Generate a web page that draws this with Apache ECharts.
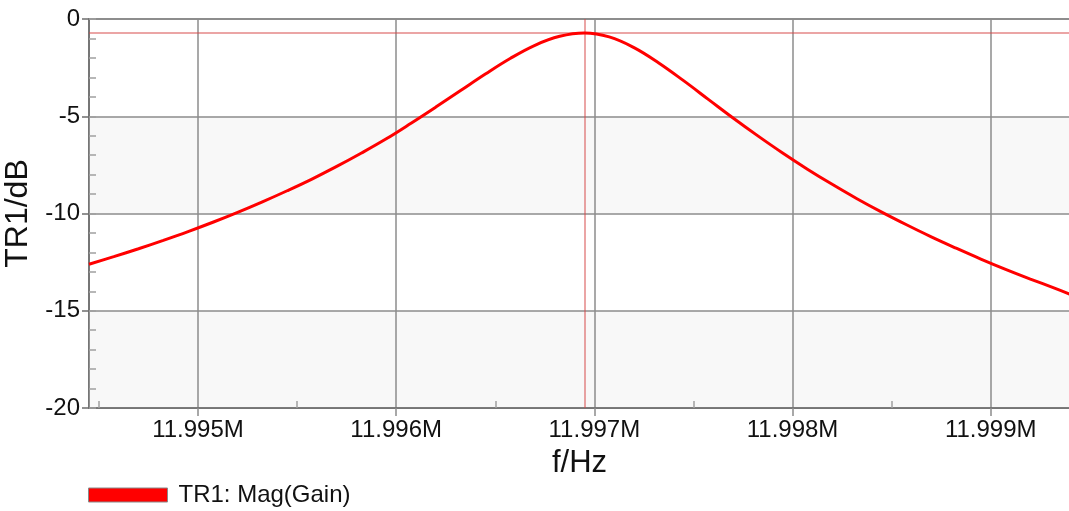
<!DOCTYPE html>
<html>
<head>
<meta charset="utf-8">
<title>TR1 Mag(Gain)</title>
<script src="https://cdn.jsdelivr.net/npm/echarts@6/dist/echarts.min.js"></script>
<style>
  html, body { margin: 0; padding: 0; background: #ffffff; }
  #chart { width: 1069px; height: 511px; }
</style>
</head>
<body>
<div id="chart"></div>
<script>
// Sweep frequencies (Hz), 125 Hz steps, and measured gain (dB)
const freqHz = [11994450, 11994575, 11994700, 11994825, 11994950, 11995075, 11995200, 11995325,
                11995450, 11995575, 11995700, 11995825, 11995950, 11996075, 11996200, 11996325,
                11996450, 11996575, 11996700, 11996825, 11996950, 11997075, 11997200, 11997325,
                11997450, 11997575, 11997700, 11997825, 11997950, 11998075, 11998200, 11998325,
                11998450, 11998575, 11998700, 11998825, 11998950, 11999075, 11999200, 11999325,
                11999400];
const gainDb = [-12.61, -12.22, -11.81, -11.38, -10.93, -10.45, -9.94, -9.40,
                -8.83, -8.23, -7.58, -6.89, -6.16, -5.36, -4.53, -3.68,
                -2.83, -2.03, -1.35, -0.89, -0.72, -0.92, -1.47, -2.26,
                -3.17, -4.13, -5.09, -6.01, -6.89, -7.72, -8.50, -9.24,
                -9.93, -10.58, -11.20, -11.78, -12.34, -12.87, -13.37, -13.85,
                -14.15];

// Frequency axis range and tick positions (Hz)
const freqMin = 11994450;
const freqMax = 11999400;
const xMajorTicks = [11995000, 11996000, 11997000, 11998000, 11999000];
const xMinorTicks = [11994500, 11995500, 11996500, 11997500, 11998500];

// Gain axis range (dB)
const gainMin = -20;
const gainMax = 0;

// Marker at the resonance peak
const markerFreq = 11996950;
const markerDb = -0.72;

const traceName = 'TR1: Mag(Gain)';

const FONT = '"Liberation Sans", Arial, sans-serif';
const AXIS_GREY = '#6e6e6e';
const GRID_GREY = '#8c8c8c';

const GRID = { left: 89, top: 19, right: -1, bottom: 103 };
const plotHeight = 511 - GRID.top - GRID.bottom;

const chart = echarts.init(document.getElementById('chart'), null, { renderer: 'canvas' });

const option = {
  animation: false,
  backgroundColor: '#ffffff',
  textStyle: { fontFamily: FONT },
  grid: Object.assign({
    show: true, borderColor: AXIS_GREY, borderWidth: 1.5, backgroundColor: 'transparent',
    outerBoundsMode: 'none', containLabel: false
  }, GRID),
  legend: {
    left: 88, top: 483, padding: 0,
    icon: 'rect', itemWidth: 79, itemHeight: 14,
    itemStyle: { borderColor: '#8a8a8a', borderWidth: 1 },
    textStyle: { fontSize: 24, color: '#111', fontFamily: FONT, lineHeight: 24, padding: [0, 0, 0, 6] },
    data: [traceName]
  },
  xAxis: [
    {
      type: 'value', min: freqMin, max: freqMax, position: 'bottom',
      name: 'f/Hz', nameLocation: 'middle', nameGap: 40,
      nameTextStyle: { fontSize: 31, color: '#111', fontFamily: FONT },
      axisLine: { show: true, onZero: false, lineStyle: { color: AXIS_GREY, width: 1.5 } },
      axisTick: { show: true, inside: false, length: 8, customValues: xMajorTicks,
                  lineStyle: { color: GRID_GREY, width: 1.5 } },
      axisLabel: { show: true, customValues: xMajorTicks, margin: 10, fontSize: 24, color: '#111', fontFamily: FONT,
                   formatter: v => (v / 1e6).toFixed(3) + 'M' },
      splitLine: { show: true, lineStyle: { color: GRID_GREY, width: 1.5 } }
    },
    {
      // minor ticks: an axis moved down onto the bottom edge, ticks pointing up into the plot
      type: 'value', min: freqMin, max: freqMax, position: 'top', offset: -plotHeight,
      axisLine: { show: false, onZero: false },
      axisTick: { show: true, inside: false, length: 7, customValues: xMinorTicks,
                  lineStyle: { color: '#a0a0a0', width: 1.5 } },
      axisLabel: { show: false },
      splitLine: { show: false }
    }
  ],
  yAxis: [
    {
      type: 'value', min: gainMin, max: gainMax, interval: 5, position: 'left',
      name: 'TR1/dB', nameLocation: 'middle', nameGap: 31, nameRotate: 90,
      nameTextStyle: { fontSize: 32, color: '#111', fontFamily: FONT },
      axisLine: { show: true, lineStyle: { color: AXIS_GREY, width: 1.5 } },
      axisTick: { show: true, inside: false, length: 7, lineStyle: { color: AXIS_GREY, width: 1.5 } },
      axisLabel: { margin: 9, fontSize: 24, color: '#111', fontFamily: FONT },
      splitLine: { show: true, lineStyle: { color: GRID_GREY, width: 1.5 } },
      splitArea: { show: true, areaStyle: { color: ['#f8f8f8', 'rgba(255,255,255,0)'] } }
    },
    {
      type: 'value', min: gainMin, max: gainMax, interval: 1, position: 'left',
      axisLine: { show: false },
      axisTick: { show: true, inside: true, length: 7, lineStyle: { color: '#a0a0a0', width: 1.5 } },
      axisLabel: { show: false },
      splitLine: { show: false }
    }
  ],
  series: [
    {
      name: traceName,
      type: 'line',
      xAxisIndex: 0, yAxisIndex: 0,
      data: freqHz.map((f, i) => [f, gainDb[i]]),
      showSymbol: false,
      smooth: 0.4,
      color: '#ff0000',
      lineStyle: { color: '#ff0000', width: 3 },
      markLine: {
        silent: true,
        symbol: 'none',
        label: { show: false },
        lineStyle: { color: 'rgba(214,70,70,0.65)', width: 1.5, type: 'solid' },
        data: [{ xAxis: markerFreq }, { yAxis: markerDb }],
        z: 1
      },
      z: 3
    }
  ]
};

chart.setOption(option);
</script>
</body>
</html>
